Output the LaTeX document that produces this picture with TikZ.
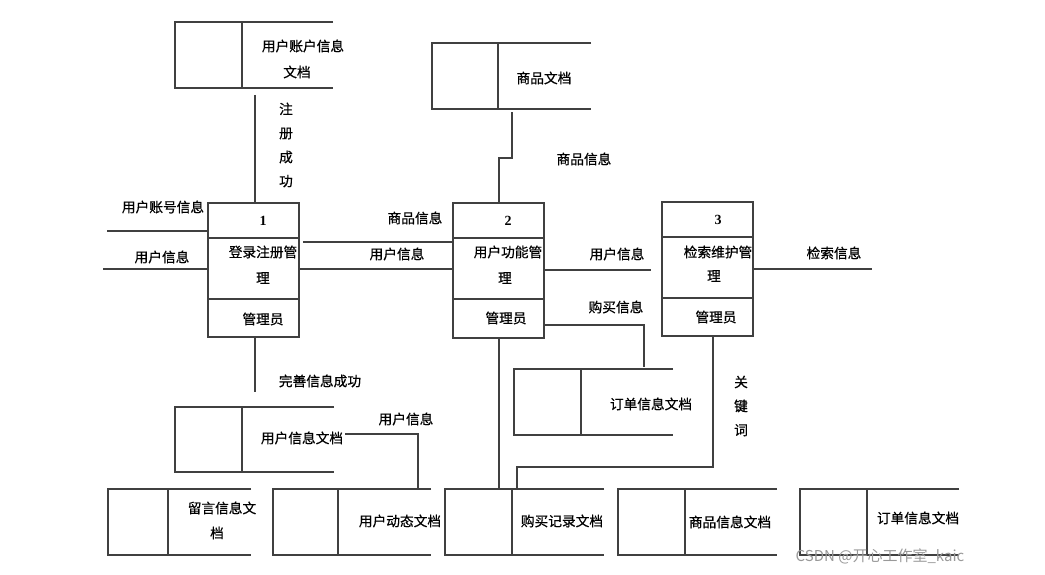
\documentclass[tikz,border=0pt]{standalone}
\usepackage{fontspec}
\setmainfont{Liberation Serif}
\newfontfamily\cjk[FakeBold=0.6]{Noto Sans CJK SC}
\newfontfamily\cjkwm{Noto Sans CJK SC}
\newcommand\dstore[5]{%
  \draw[ln] (#3,#4) -- (#1,#4) -- (#1,#5) -- (#3,#5);
  \draw[ln] (#2,#4) -- (#2,#5);}
\newcommand\dproc[7]{%
  \draw[ln] (#2,#4) rectangle (#3,#7);
  \draw[ln] (#2,#5) -- (#3,#5);
  \draw[ln] (#2,#6) -- (#3,#6);
  \coordinate (#1) at (#2,#4);}
\begin{document}
\begin{tikzpicture}[x=1pt,y=-1pt,
  ln/.style={draw=black!75, line width=1.1pt},
  lbl/.style={font=\cjk\fontsize{13.7}{15}\selectfont, inner sep=0pt, text=black},
  vlbl/.style={font=\cjk\fontsize{13.7}{24}\selectfont, inner sep=0pt, align=center, text=black},
  num/.style={font=\bfseries\fontsize{14}{16}\selectfont, inner sep=0pt}]
\useasboundingbox (0,0) rectangle (1045,575);
% data stores
\dstore{175}{242}{333}{22}{88}
\node[lbl] (s1a) at (303,46) {用户账户信息};
\node[lbl] (s1b) at (297,72) {文档};
\dstore{432}{498}{591}{43}{109}
\node[lbl] (s2) at (544,78) {商品文档};
\dstore{175}{242}{334}{407}{472}
\node[lbl] (s3) at (302,438) {用户信息文档};
\dstore{514}{581}{673}{369}{435}
\node[lbl] (s4) at (651,404) {订单信息文档};
\dstore{108}{168}{251}{489}{555}
\node[lbl] (s5a) at (222,508) {留言信息文};
\node[lbl] (s5b) at (217,533) {档};
\dstore{273}{338}{431}{489}{555}
\node[lbl] (s6) at (400,521) {用户动态文档};
\dstore{445}{512}{604}{489}{555}
\node[lbl] (s7) at (562,521) {购买记录文档};
\dstore{618}{685}{777}{489}{555}
\node[lbl] (s8) at (730,522) {商品信息文档};
\dstore{800}{867}{959}{489}{555}
\node[lbl] (s9) at (918,518) {订单信息文档};
% processes
\dproc{p1}{208}{299}{203}{238}{299}{337}
\node[num] (n1) at (263,221) {1};
\node[lbl] (t1a) at (263,252) {登录注册管};
\node[lbl] (t1b) at (263,278) {理};
\node[lbl] (m1) at (263,319) {管理员};
\dproc{p2}{453}{544}{203}{238}{299}{338}
\node[num] (n2) at (508,221) {2};
\node[lbl] (t2a) at (508,252) {用户功能管};
\node[lbl] (t2b) at (505,278) {理};
\node[lbl] (m2) at (506,318) {管理员};
\dproc{p3}{662}{753}{202}{237}{298}{336}
\node[num] (n3) at (718,220) {3};
\node[lbl] (t3a) at (718,252) {检索维护管};
\node[lbl] (t3b) at (714,276) {理};
\node[lbl] (m3) at (716,317) {管理员};
% connectors
\draw[ln] (255,95) -- (255,203);
\node[vlbl] (l1) at (286,145) {注\\册\\成\\功};
\draw[ln] (107,231) -- (208,231);
\node[lbl] (l2) at (163,207) {用户账号信息};
\draw[ln] (103,269) -- (208,269);
\node[lbl] (l3) at (162,257) {用户信息};
\draw[ln] (303,242) -- (453,242);
\node[lbl] (l4) at (415,218) {商品信息};
\draw[ln] (299,269) -- (453,269);
\node[lbl] (l5) at (397,254) {用户信息};
\draw[ln] (499,203) -- (499,158) -- (512,158) -- (512,112);
\node[lbl] (l6) at (584,159) {商品信息};
\draw[ln] (544,270) -- (651,270);
\node[lbl] (l7) at (617,254) {用户信息};
\draw[ln] (544,325) -- (644,325) -- (644,367);
\node[lbl] (l8) at (616,307) {购买信息};
\draw[ln] (753,269) -- (872,269);
\node[lbl] (l9) at (834,253) {检索信息};
\draw[ln] (255,338) -- (255,392);
\node[lbl] (l10) at (320,381) {完善信息成功};
\draw[ln] (345,434) -- (418,434) -- (418,489);
\node[lbl] (l11) at (406,419) {用户信息};
\draw[ln] (499,338) -- (499,489);
\draw[ln] (713,336) -- (713,467) -- (517,467) -- (517,489);
\node[vlbl] (l12) at (741,406) {关\\键\\词};
% watermark
\node[font=\cjkwm\fontsize{15}{17}\selectfont, text=black!40, inner sep=0pt] (wm) at (880,556) {CSDN @开心工作室\_kaic};
\end{tikzpicture}
\end{document}
